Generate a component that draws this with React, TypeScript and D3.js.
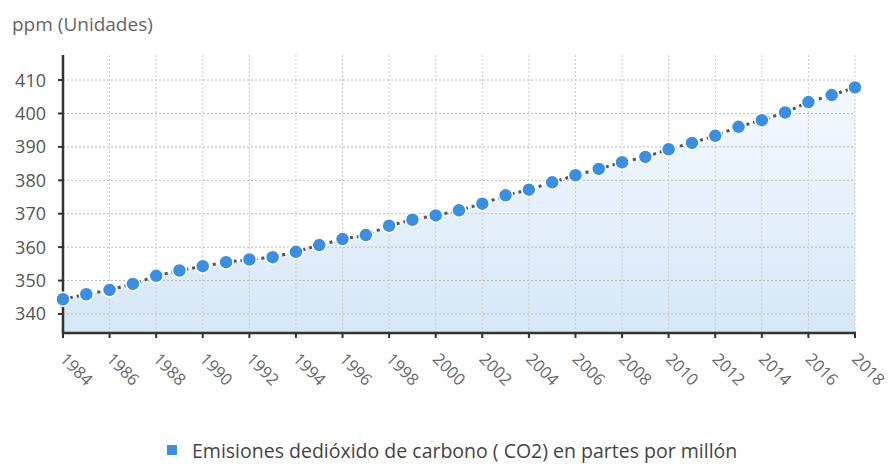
import React from "react";
import * as d3 from "d3";

const years = [1984,1985,1986,1987,1988,1989,1990,1991,1992,1993,1994,1995,1996,1997,1998,1999,2000,2001,2002,2003,2004,2005,2006,2007,2008,2009,2010,2011,2012,2013,2014,2015,2016,2017,2018];
const ppm = [344.4,345.9,347.2,349.0,351.4,353.0,354.3,355.5,356.3,357.0,358.6,360.6,362.4,363.6,366.4,368.2,369.5,371.0,373.0,375.5,377.2,379.4,381.5,383.4,385.4,387.0,389.3,391.2,393.3,396.0,398.0,400.3,403.4,405.5,407.8];
const yTicks = [340,350,360,370,380,390,400,410];
const xTicks = [1984,1986,1988,1990,1992,1994,1996,1998,2000,2002,2004,2006,2008,2010,2012,2014,2016,2018];
const yTitle = "ppm (Unidades)";
const legendLabel = "Emisiones dedióxido de carbono ( CO2) en partes por millón";

const W = 891, H = 466;
const left = 63, right = 855, top = 55, bottom = 333;
const font = "'Open Sans', 'Noto Sans', sans-serif";

export default function App() {
  const x = d3.scaleLinear().domain([1984, 2018]).range([left, right]);
  const y = d3.scaleLinear().domain([334.3, 417.5]).range([bottom, top]);
  const data = years.map((yr, i) => ({ yr, v: ppm[i] }));
  const line = d3.line<any>().x(d => x(d.yr)).y(d => y(d.v));
  const area = d3.area<any>().x(d => x(d.yr)).y0(bottom).y1(d => y(d.v));
  return (
    <svg width={W} height={H} style={{ position: "absolute", left: 0, top: 0, background: "#fff" }}>
      <defs>
        <linearGradient id="ag" x1="0" y1="0" x2="0" y2="1" gradientUnits="objectBoundingBox">
          <stop offset="0" stopColor="#f5f9fe" />
          <stop offset="1" stopColor="#d6e7f7" />
        </linearGradient>
      </defs>
      <text x={12} y={31} fontFamily={font} fontSize={19} fill="#666">{yTitle}</text>
      <path d={area(data) || ""} fill="url(#ag)" />
      {yTicks.map(t => (
        <line key={"gy" + t} x1={left} x2={right} y1={y(t)} y2={y(t)} stroke="#bbb" strokeWidth={1} strokeDasharray="2,2" />
      ))}
      {xTicks.map(t => (
        <line key={"gx" + t} x1={x(t)} x2={x(t)} y1={top} y2={bottom} stroke="#ccc" strokeWidth={1} strokeDasharray="2,2" />
      ))}
      <line x1={left} x2={left} y1={top} y2={bottom + 1} stroke="#333" strokeWidth={2.5} />
      <line x1={left - 1} x2={right + 1} y1={bottom} y2={bottom} stroke="#333" strokeWidth={2.5} />
      {yTicks.map(t => (
        <g key={"ty" + t}>
          <line x1={left - 5} x2={left} y1={y(t)} y2={y(t)} stroke="#333" strokeWidth={2} />
          <text x={46} y={y(t)} dy="0.36em" textAnchor="end" fontFamily={font} fontSize={18} fill="#555">{t}</text>
        </g>
      ))}
      {xTicks.map(t => (
        <g key={"tx" + t}>
          <line x1={x(t)} x2={x(t)} y1={bottom} y2={bottom + 5} stroke="#333" strokeWidth={2} />
          <text transform={`translate(${x(t) - 4},${bottom + 27}) rotate(45)`} fontFamily={font} fontSize={16.5} fill="#666">{t}</text>
        </g>
      ))}
      <path d={line(data) || ""} fill="none" stroke="#555" strokeWidth={3} strokeDasharray="3,4" />
      {data.map(d => (
        <circle key={"p" + d.yr} cx={x(d.yr)} cy={y(d.v)} r={7} fill="#3a8fe0" stroke="#fff" strokeWidth={1.5} />
      ))}
      <rect x={167} y={445} width={10} height={10} fill="#3a8fe0" />
      <text x={192} y={458} fontFamily={font} fontSize={19.5} fill="#444">{legendLabel}</text>
    </svg>
  );
}
